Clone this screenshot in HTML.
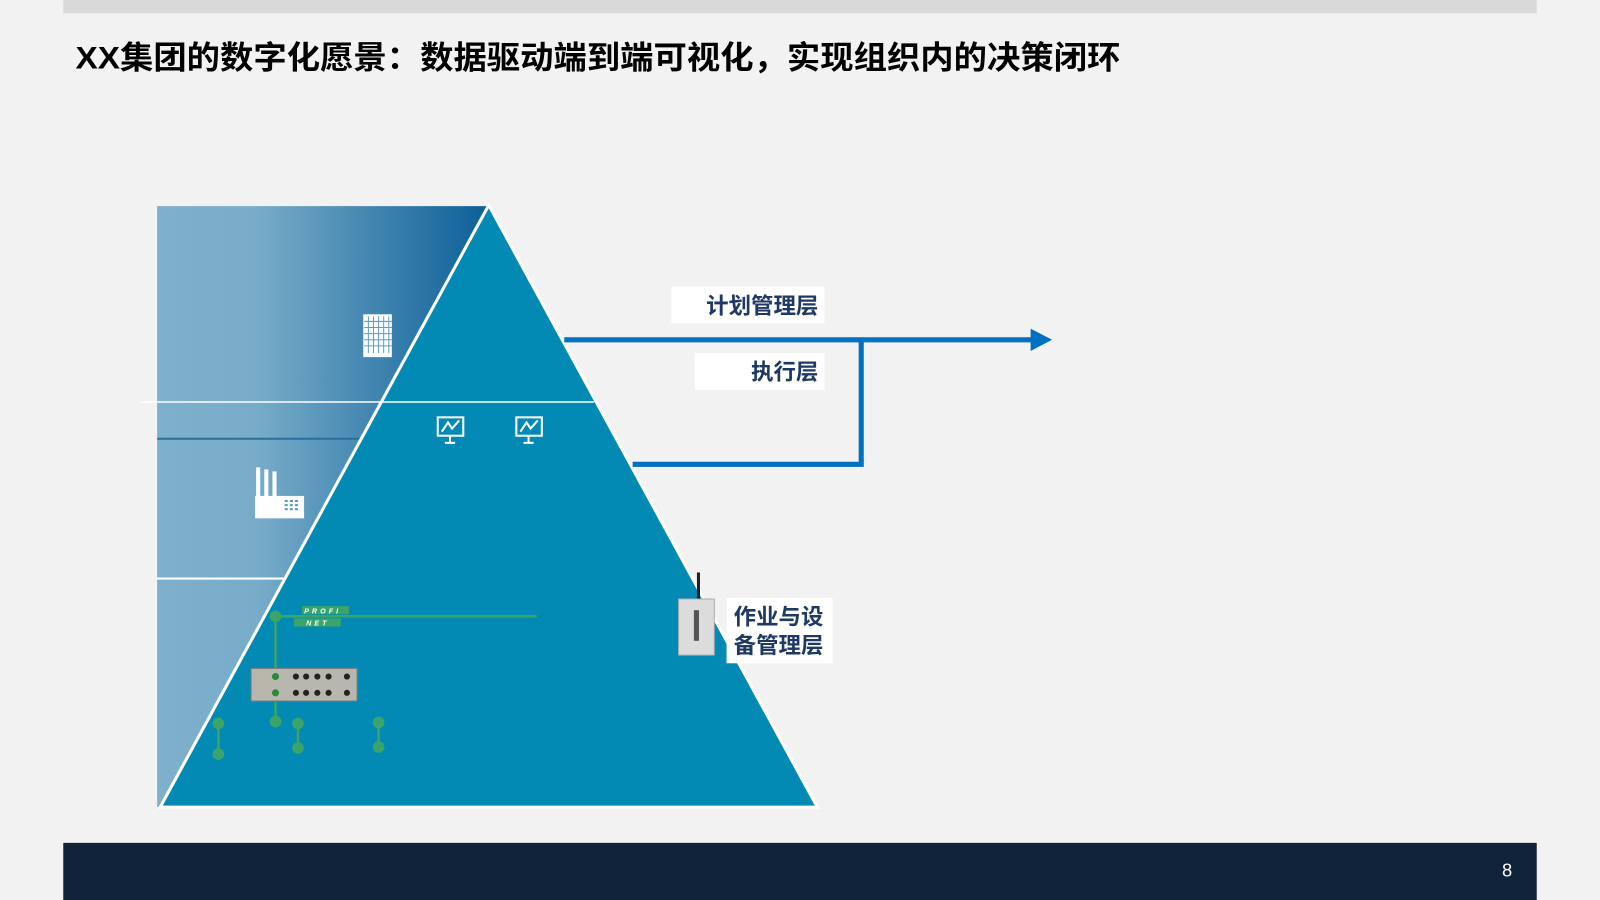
<!DOCTYPE html>
<html><head><meta charset="utf-8"><style>
html,body{margin:0;padding:0;width:1600px;height:900px;overflow:hidden;background:#f2f2f2}
svg{display:block}
text{font-family:"Liberation Sans","Noto Sans CJK SC",sans-serif}
</style></head><body>
<svg width="1600" height="900" viewBox="0 0 1568 882" preserveAspectRatio="none">
<defs>
<linearGradient id="g" x1="0" x2="1" y1="0" y2="0">
<stop offset="0" stop-color="#7fb0cb"/><stop offset="0.3" stop-color="#78acc9"/><stop offset="1" stop-color="#0d5f98"/>
</linearGradient>
</defs>
<rect width="1568" height="882" fill="#f2f2f2"/>
<rect x="62" y="0" width="1444" height="13" fill="#d9d9d9"/>
<text x="74" y="67" font-size="31" font-weight="bold" fill="#000" textLength="1024" lengthAdjust="spacingAndGlyphs">XX集团的数字化愿景：数据驱动端到端可视化，实现组织内的决策闭环</text>
<rect x="154" y="202" width="324" height="589" fill="url(#g)"/>
<line x1="154" y1="430" x2="360" y2="430" stroke="#2a6f9a" stroke-width="2"/>
<line x1="153" y1="567" x2="280" y2="567" stroke="#fff" stroke-width="2"/>
<polygon points="479,201 157,791 801,791" fill="#028ab5" stroke="#fff" stroke-width="3"/>
<line x1="137" y1="394" x2="582" y2="394" stroke="#fff" stroke-width="1.5"/>
<g fill="#fff"><rect x="356" y="308" width="28" height="42"/></g>
<g stroke="#5aa0c0" stroke-width="1">
<line x1="361" y1="310" x2="361" y2="346"/><line x1="366" y1="310" x2="366" y2="346"/><line x1="371" y1="310" x2="371" y2="346"/><line x1="376" y1="310" x2="376" y2="346"/><line x1="381" y1="310" x2="381" y2="346"/>
<line x1="357" y1="315" x2="384" y2="315"/><line x1="357" y1="321" x2="384" y2="321"/><line x1="357" y1="327" x2="384" y2="327"/><line x1="357" y1="333" x2="384" y2="333"/><line x1="357" y1="339" x2="384" y2="339"/></g>
<g fill="none" stroke="#fff" stroke-width="2">
<rect x="429" y="409" width="25" height="18"/><polyline points="433,423 439,414 443,420 450,412"/><line x1="441" y1="427" x2="441" y2="434"/><line x1="436" y1="434" x2="446" y2="434"/>
<rect x="506" y="409" width="25" height="18"/><polyline points="510,423 516,414 520,420 527,412"/><line x1="518" y1="427" x2="518" y2="434"/><line x1="513" y1="434" x2="523" y2="434"/>
</g>
<g fill="#fff"><rect x="251" y="458" width="4" height="30"/><rect x="259" y="460" width="4" height="28"/><rect x="267" y="462" width="4" height="26"/><rect x="250" y="486" width="48" height="22"/></g>
<g fill="#5a9cc0"><rect x="279" y="490" width="3" height="2"/><rect x="284" y="490" width="3" height="2"/><rect x="289" y="490" width="3" height="2"/><rect x="279" y="494" width="3" height="2"/><rect x="284" y="494" width="3" height="2"/><rect x="289" y="494" width="3" height="2"/><rect x="279" y="498" width="3" height="2"/><rect x="284" y="498" width="3" height="2"/><rect x="289" y="498" width="3" height="2"/></g>
<g stroke="#3aa46a" stroke-width="2.5" fill="#3aa46a">
<line x1="270" y1="604" x2="526" y2="604"/><line x1="270" y1="604" x2="270" y2="707"/>
<line x1="214" y1="709" x2="214" y2="739"/><line x1="292" y1="709" x2="292" y2="733"/><line x1="371" y1="708" x2="371" y2="732"/>
<circle cx="270" cy="604" r="4.5"/><circle cx="270" cy="707" r="4.5"/><circle cx="214" cy="709" r="4.5"/><circle cx="214" cy="739" r="4.5"/><circle cx="292" cy="709" r="4.5"/><circle cx="292" cy="733" r="4.5"/><circle cx="371" cy="708" r="4.5"/><circle cx="371" cy="732" r="4.5"/>
</g>
<rect x="296" y="594" width="46" height="8" fill="#3aa46a"/><rect x="288" y="606" width="46" height="8" fill="#3aa46a"/>
<text x="298" y="601" font-size="7" fill="#fff" font-style="italic" font-weight="bold" letter-spacing="3">PROFI</text>
<text x="300" y="613" font-size="7" fill="#fff" font-style="italic" font-weight="bold" letter-spacing="3">NET</text>
<rect x="246" y="655" width="104" height="32" fill="#b8b6ad" stroke="#777"/>
<g fill="#222"><circle cx="270" cy="663" r="3.5" fill="#2a8a3a"/><circle cx="270" cy="679" r="3.5" fill="#2a8a3a"/><circle cx="290" cy="663" r="3"/><circle cx="300" cy="663" r="3"/><circle cx="311" cy="663" r="3"/><circle cx="322" cy="663" r="3"/><circle cx="340" cy="663" r="3"/><circle cx="290" cy="679" r="3"/><circle cx="300" cy="679" r="3"/><circle cx="311" cy="679" r="3"/><circle cx="322" cy="679" r="3"/><circle cx="340" cy="679" r="3"/></g>
<rect x="683" y="561" width="3" height="30" fill="#222"/>
<rect x="665" y="587" width="35" height="55" fill="#dcdcdc" stroke="#aaa"/>
<rect x="680" y="598" width="5" height="30" fill="#555"/>
<g stroke="#0070c0" stroke-width="5" fill="none">
<line x1="553" y1="333" x2="1014" y2="333"/>
<polyline points="620,455 844,455 844,333"/>
</g>
<polygon points="1010,322 1031,333 1010,344" fill="#0070c0"/>
<rect x="658" y="281" width="150" height="36" fill="#fff"/>
<text x="802" y="307" font-size="22" font-weight="bold" fill="#1f3864" text-anchor="end">计划管理层</text>
<rect x="681" y="346" width="127" height="36" fill="#fff"/>
<text x="802" y="372" font-size="22" font-weight="bold" fill="#1f3864" text-anchor="end">执行层</text>
<rect x="712" y="586" width="104" height="64" fill="#fff"/>
<text x="719" y="612" font-size="22" font-weight="bold" fill="#1f3864">作业与设</text>
<text x="719" y="640" font-size="22" font-weight="bold" fill="#1f3864">备管理层</text>
<rect x="62" y="826" width="1444" height="56" fill="#10233a"/>
<text x="1477" y="859" font-size="18" fill="#fff" text-anchor="middle">8</text>
</svg>
</body></html>
